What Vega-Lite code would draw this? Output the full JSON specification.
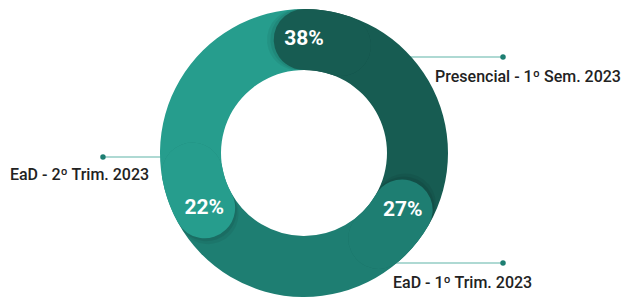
{
  "$schema": "https://vega.github.io/schema/vega-lite/v6.json",
  "autosize": {"type": "none"},
  "width": 608,
  "height": 290,
  "padding": {"left": 0, "top": 8, "right": 16, "bottom": 0},
  "background": "white",
  "config": {"view": {"stroke": null}},
  "datasets": {
    "segments": [
      {"cat": "Presencial - 1º Sem. 2023", "value": 0.38, "arc": 120},
      {"cat": "EaD - 1º Trim. 2023", "value": 0.27, "arc": 121},
      {"cat": "EaD - 2º Trim. 2023", "value": 0.22, "arc": 119}
    ],
    "notes": [
      {"cat": "Presencial - 1º Sem. 2023", "lx0": 0.556, "lx1": 1.382, "ly": 0.667, "tx": 0.91, "ty": 0.493},
      {"cat": "EaD - 1º Trim. 2023", "lx0": 0.528, "lx1": 1.382, "ly": -0.764, "tx": 0.618, "ty": -0.9375},
      {"cat": "EaD - 2º Trim. 2023", "lx0": -0.8, "lx1": -1.396, "ly": -0.028, "tx": -2.042, "ty": -0.1875}
    ]
  },
  "layer": [
    {
      "data": {"name": "notes"},
      "mark": {"type": "rule", "color": "#93cdc4", "strokeWidth": 1.5},
      "encoding": {
        "x": {"field": "lx0", "type": "quantitative", "scale": {"domain": [-2.1111, 2.1111], "nice": false, "zero": false}, "axis": null},
        "x2": {"field": "lx1"},
        "y": {"field": "ly", "type": "quantitative", "scale": {"domain": [-1.00694, 1.00694], "nice": false, "zero": false}, "axis": null}
      }
    },
    {
      "data": {"name": "notes"},
      "mark": {"type": "circle", "color": "#1e7e72", "opacity": 1, "size": 30},
      "encoding": {
        "x": {"field": "lx1", "type": "quantitative"},
        "y": {"field": "ly", "type": "quantitative"}
      }
    },
    {
      "data": {"name": "segments"},
      "transform": [{"stack": "arc", "groupby": [], "sort": [{"field": "value", "order": "descending"}], "as": ["a0", "a1"]}],
      "mark": {"type": "arc", "innerRadius": 83, "outerRadius": 144},
      "encoding": {
        "theta": {"field": "a0", "type": "quantitative", "scale": {"domain": [0, 360]}},
        "theta2": {"field": "a1"},
        "color": {"field": "cat", "type": "nominal", "legend": null,
          "scale": {"domain": ["Presencial - 1º Sem. 2023", "EaD - 1º Trim. 2023", "EaD - 2º Trim. 2023"], "range": ["#175c52", "#1e7e72", "#269d8d"]}}
      }
    },
    {
      "data": {"name": "segments"},
      "transform": [{"stack": "arc", "groupby": [], "sort": [{"field": "value", "order": "descending"}], "as": ["a0", "a1"]}],
      "mark": {"type": "arc", "innerRadius": 83, "outerRadius": 144, "cornerRadius": 30.5, "thetaOffset": -0.33, "theta2Offset": 0.6, "color": "#000000", "opacity": 0.06},
      "encoding": {
        "theta": {"field": "a0", "type": "quantitative"},
        "theta2": {"field": "a0"}
      }
    },
    {
      "data": {"name": "segments"},
      "transform": [{"stack": "arc", "groupby": [], "sort": [{"field": "value", "order": "descending"}], "as": ["a0", "a1"]}],
      "mark": {"type": "arc", "innerRadius": 83, "outerRadius": 144, "cornerRadius": 30.5, "thetaOffset": -0.30, "theta2Offset": 0.6, "color": "#000000", "opacity": 0.07},
      "encoding": {
        "theta": {"field": "a0", "type": "quantitative"},
        "theta2": {"field": "a0"}
      }
    },
    {
      "data": {"name": "segments"},
      "transform": [{"stack": "arc", "groupby": [], "sort": [{"field": "value", "order": "descending"}], "as": ["a0", "a1"]}],
      "mark": {"type": "arc", "innerRadius": 83, "outerRadius": 144, "cornerRadius": 30.5, "thetaOffset": -0.27, "theta2Offset": 0.6},
      "encoding": {
        "theta": {"field": "a0", "type": "quantitative"},
        "theta2": {"field": "a0"},
        "color": {"field": "cat", "type": "nominal", "legend": null}
      }
    },
    {
      "data": {"name": "segments"},
      "transform": [{"stack": "arc", "groupby": [], "sort": [{"field": "value", "order": "descending"}], "as": ["a0", "a1"]}],
      "mark": {"type": "text", "radius": 114, "font": "Roboto", "fontSize": 21, "fontWeight": "bold", "color": "white", "align": "center", "baseline": "middle"},
      "encoding": {
        "theta": {"field": "a0", "type": "quantitative"},
        "text": {"field": "value", "type": "quantitative", "format": ".0%"}
      }
    },
    {
      "data": {"name": "notes"},
      "mark": {"type": "text", "font": "Roboto", "fontSize": 16, "fontWeight": 500, "color": "#222222", "align": "left", "baseline": "alphabetic"},
      "encoding": {
        "x": {"field": "tx", "type": "quantitative"},
        "y": {"field": "ty", "type": "quantitative"},
        "text": {"field": "cat", "type": "nominal"}
      }
    }
  ]
}
